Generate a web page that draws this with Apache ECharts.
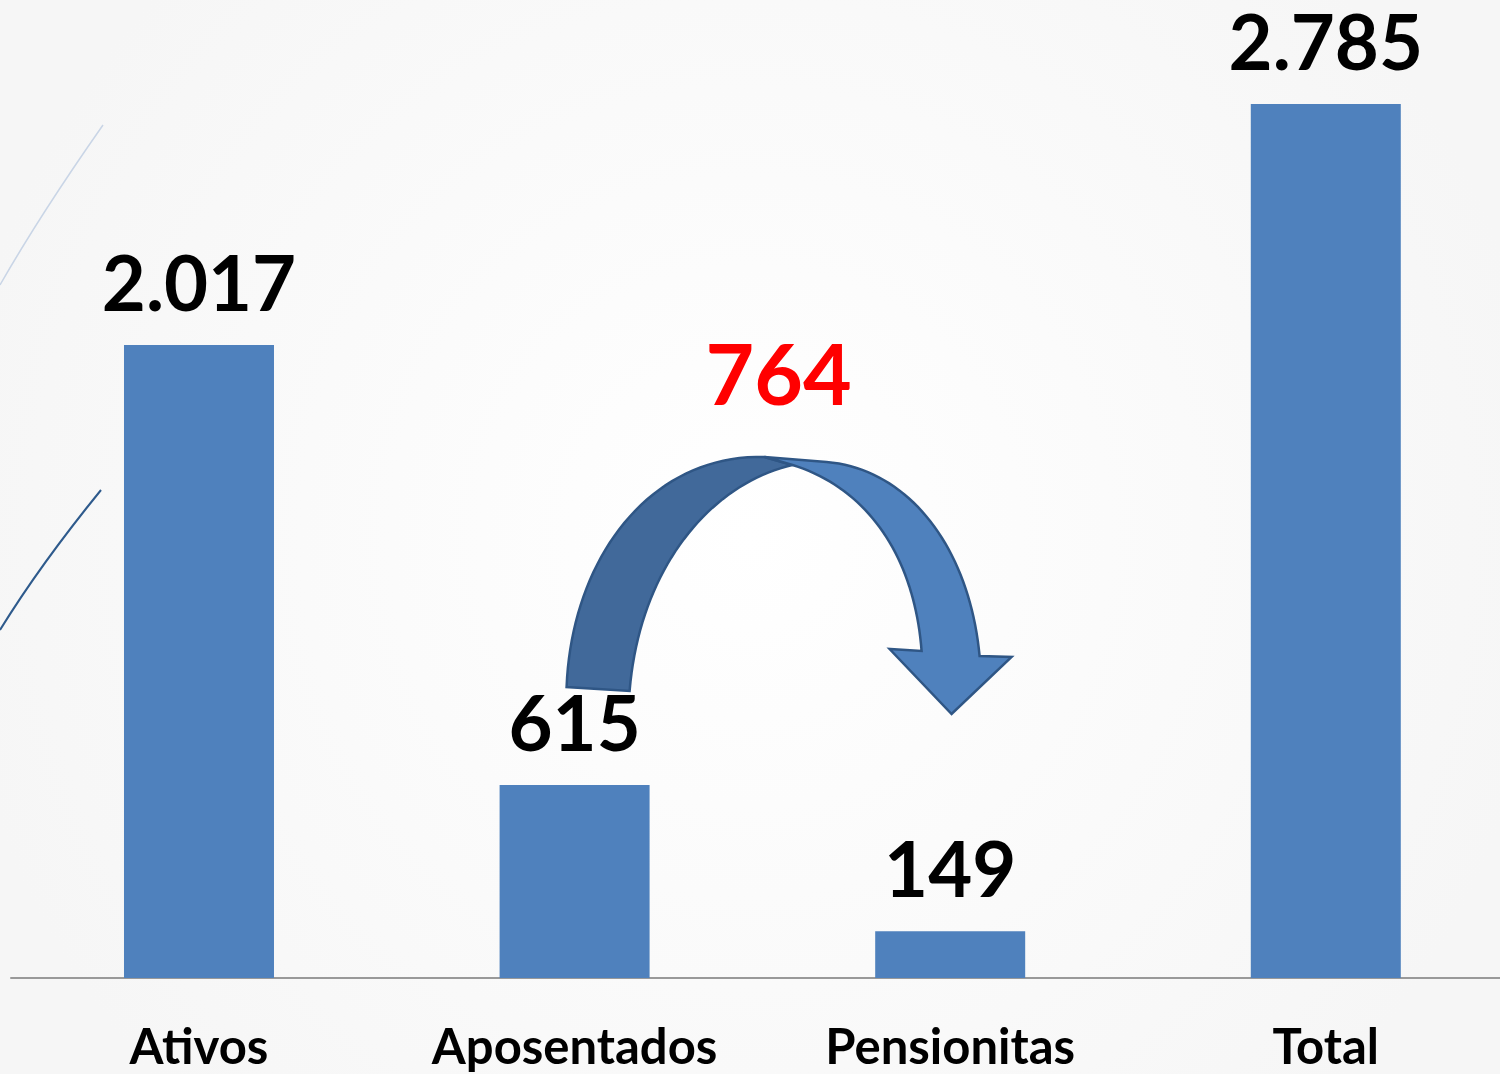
<!DOCTYPE html>
<html>
<head>
<meta charset="utf-8">
<script src="https://cdn.jsdelivr.net/npm/echarts@6/dist/echarts.min.js"></script>
<style>html,body{margin:0;padding:0;background:#f9f9f9;}#c{width:1500px;height:1074px;}</style>
</head>
<body>
<div id="c"></div>
<script>
const categories = ['Ativos', 'Aposentados', 'Pensionitas', 'Total'];
const values = [2017, 615, 149, 2785];
const valueLabels = ['2.017', '615', '149', '2.785'];
const transferLabel = '764';

const FONT = 'Lato';
const chart = echarts.init(document.getElementById('c'), null, {renderer: 'canvas'});

chart.setOption({
  backgroundColor: {
    type: 'radial', x: 0.5, y: 0.5, r: 0.75,
    colorStops: [{offset: 0, color: '#ffffff'}, {offset: 1, color: '#f6f6f6'}]
  },
  animation: false,
  grid: {left: 11, right: 0, top: 104, bottom: 96, containLabel: false},
  xAxis: {
    type: 'value',
    min: -0.5005, max: 3.4638,
    splitLine: {show: false},
    axisLine: {show: true, onZero: false, lineStyle: {color: '#999999', width: 2}},
    axisTick: {show: false},
    axisLabel: {
      customValues: categories.map((c, i) => i),
      formatter: v => categories[Math.round(v)],
      margin: 46, color: '#000000',
      fontFamily: FONT, fontWeight: 'bold', fontSize: 49
    }
  },
  yAxis: {type: 'value', min: 0, max: 'dataMax', show: false, splitLine: {show: false}},
  series: [{
    type: 'bar',
    data: values.map((v, i) => [i, v]),
    barWidth: 150,
    itemStyle: {color: '#4f81bd'},
    label: {
      show: true, position: 'top', distance: 21,
      color: '#000000', fontFamily: FONT, fontWeight: 'bold', fontSize: 76,
      formatter: p => valueLabels[p.dataIndex]
    }
  }]
});

// Annotation arrow anchored to the Aposentados bar top
const a = chart.convertToPixel({seriesIndex: 0}, [1, values[1]]);
const ox = a[0] - 575, oy = a[1] - 786;
function cubic(p0, p1, p2, p3, n) {
  const out = [];
  for (let k = 0; k <= n; k++) {
    const t = k / n, u = 1 - t;
    out.push([
      u*u*u*p0[0] + 3*u*u*t*p1[0] + 3*u*t*t*p2[0] + t*t*t*p3[0],
      u*u*u*p0[1] + 3*u*u*t*p1[1] + 3*u*t*t*p2[1] + t*t*t*p3[1]
    ]);
  }
  return out;
}
const leftPts = [].concat(
  cubic([567,688],[572,560],[650,455],[765,458], 40),
  cubic([793,466],[710,485],[640,570],[630,692], 40)
).map(p => [p[0] + ox, p[1] + oy]);
const rightPts = [].concat(
  [[765,458]],
  cubic([827,463],[910,470],[970,550],[980,657], 40),
  [[1012,658],[952,715],[890,650]],
  cubic([922,652],[915,560],[870,490],[793,466], 40)
).map(p => [p[0] + ox, p[1] + oy]);

chart.setOption({
  graphic: [
    {
      type: 'bezierCurve', silent: true,
      shape: {x1: 0, y1: 285, x2: 103, y2: 125, cpx1: 40, cpy1: 215},
      style: {stroke: '#c9d5e6', lineWidth: 1.5, fill: null}
    },
    {
      type: 'bezierCurve', silent: true,
      shape: {x1: 0, y1: 630, x2: 101, y2: 490, cpx1: 40, cpy1: 565},
      style: {stroke: '#2e5a8c', lineWidth: 2, fill: null}
    },
    {type: 'polygon', silent: true, shape: {points: leftPts},
      style: {fill: '#41699a', stroke: '#2f5685', lineWidth: 2.5}},
    {type: 'polygon', silent: true, shape: {points: rightPts},
      style: {fill: '#4f81bd', stroke: '#2f5685', lineWidth: 2.5}},
    {type: 'text', silent: true, x: 779 + ox, y: 379 + oy,
      style: {text: transferLabel, fill: '#ff0000', font: 'bold 84px ' + FONT,
        textAlign: 'center', textVerticalAlign: 'middle'}}
  ]
});
</script>
</body>
</html>
